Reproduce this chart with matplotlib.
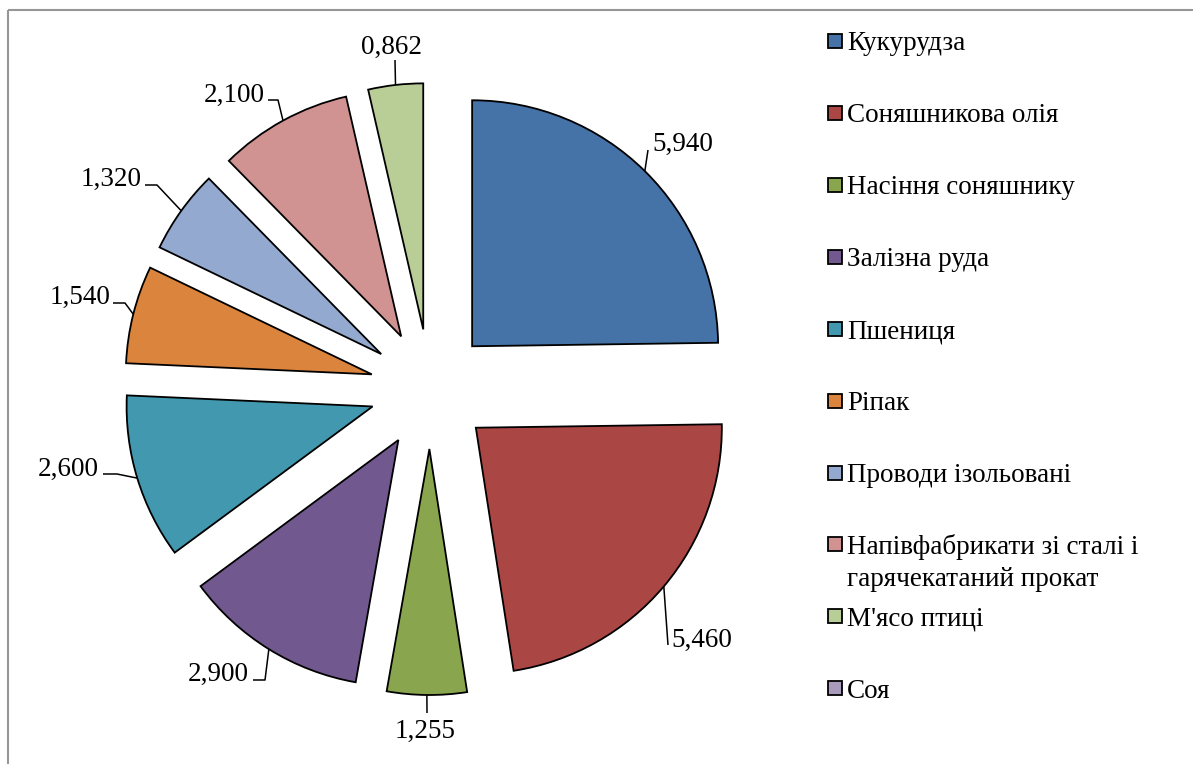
import matplotlib
matplotlib.use("Agg")
import matplotlib.pyplot as plt
from matplotlib.patches import Rectangle
import numpy as np

# Export structure (values)
categories = [
    "Кукурудза",
    "Соняшникова олія",
    "Насіння соняшнику",
    "Залізна руда",
    "Пшениця",
    "Ріпак",
    "Проводи ізольовані",
    "Напівфабрикати зі сталі і\nгарячекатаний прокат",
    "М'ясо птиці",
    "Соя",
]
values = [5.940, 5.460, 1.255, 2.900, 2.600, 1.540, 1.320, 2.100, 0.862, 0.0]
colors = ["#4572A7", "#AA4643", "#89A54E", "#71588F", "#4198AF",
          "#DB843D", "#93A9CF", "#D19392", "#B9CD96", "#A99BBD"]

W, H = 1193, 764
FONT = "Liberation Serif"
FS = 19.5

fig = plt.figure(figsize=(W / 100, H / 100), dpi=100)
ax = fig.add_axes([0, 0, 1, 1])

# Pie drawn in pixel-like coordinates with y pointing down
center = (430, 389)
radius = 246
offset = 60
drawn = [(v, c) for v, c in zip(values, colors) if v > 0]
vals = [v for v, _ in drawn]
cols = [c for _, c in drawn]
wedges, _ = ax.pie(vals, colors=cols, center=center, radius=radius,
                   explode=[offset] * len(vals), startangle=-90,
                   counterclock=True,
                   wedgeprops=dict(edgecolor="black", linewidth=1.3))
ax.set_xlim(0, W)
ax.set_ylim(H, 0)
ax.set_aspect("equal")
ax.axis("off")

# Data label layout: text centre and leader-line bend points
label_layout = [
    ((683, 144), [(648, 150)]),
    ((702, 640), [(668, 645)]),
    ((425, 731), [(427, 713)]),
    ((218, 674), [(265, 680), (253, 680)]),
    ((68, 469), [(117, 474), (103, 474)]),
    ((80, 297), [(125, 303), (113, 303)]),
    ((111, 179), [(157, 185), (145, 185)]),
    ((234, 95), [(278, 100), (268, 100)]),
    ((392, 47), [(395, 60)]),
]

for w, v, (tpos, bends) in zip(wedges, vals, label_layout):
    mid = np.deg2rad(0.5 * (w.theta1 + w.theta2))
    cx, cy = w.center
    ex, ey = cx + w.r * np.cos(mid), cy + w.r * np.sin(mid)
    xs = [ex] + [b[0] for b in bends]
    ys = [ey] + [b[1] for b in bends]
    ax.plot(xs, ys, color="black", linewidth=1.1, solid_capstyle="butt")
    ax.text(tpos[0], tpos[1], f"{v:.3f}".replace(".", ","), ha="center",
            va="center", fontsize=FS, family=FONT, color="black")

# Legend
legend_y = [41, 113, 185, 257, 329, 401, 473, 544, 616, 688]
for name, col, y in zip(categories, colors, legend_y):
    ax.add_patch(Rectangle((827.5, y - 7), 14, 14, facecolor=col,
                           edgecolor="black", linewidth=1.3))
    lines = name.split("\n")
    for i, line in enumerate(lines):
        ax.text(847, y + 3 + 33 * i, line, ha="left", va="center",
                fontsize=FS, family=FONT, color="black")

# Chart area border
ax.add_patch(Rectangle((7.5, 9.5), W + 20, H + 20, facecolor="none",
                       edgecolor="#969696", linewidth=1.5, clip_on=False))

fig.savefig("out.png", dpi=100)
